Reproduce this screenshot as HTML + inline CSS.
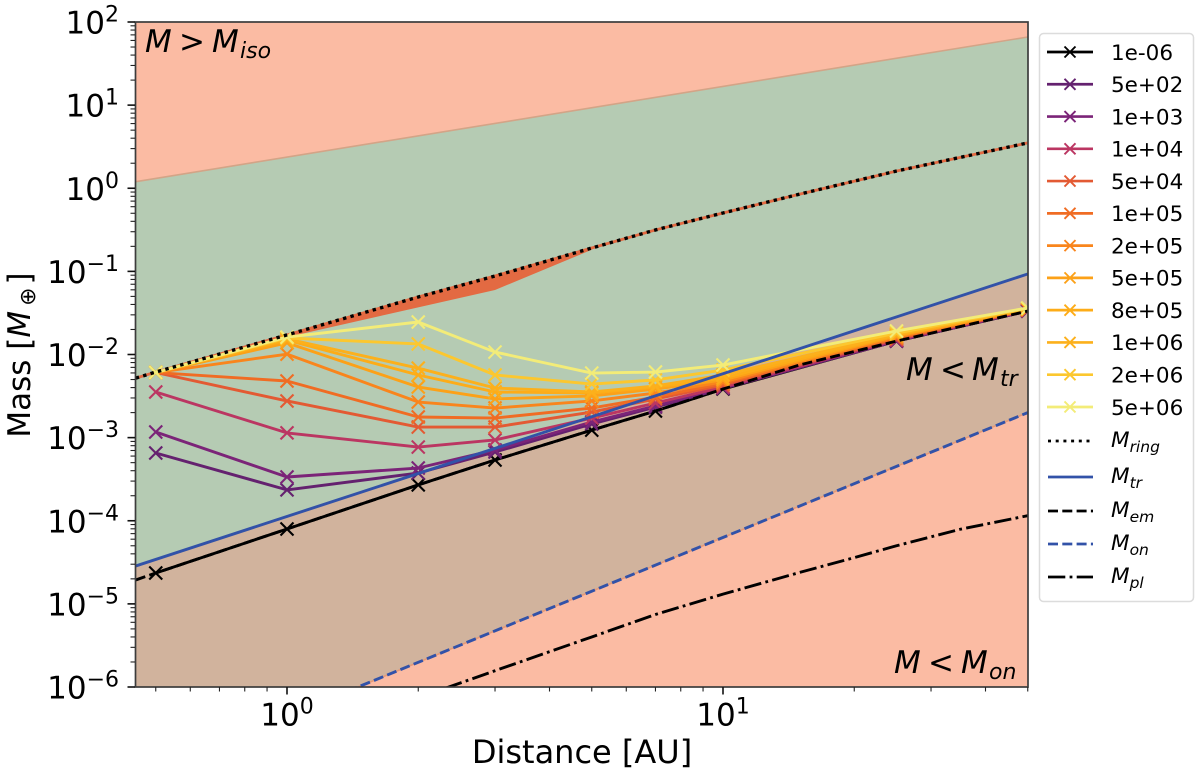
<!DOCTYPE html>
<html>
<head>
<meta charset="utf-8">
<title>Mass vs Distance chart</title>
<style>
html,body{margin:0;padding:0;background:#fff;width:1200px;height:775px;overflow:hidden}
svg{display:block;filter:blur(0.35px)}
text{font-family:"DejaVu Sans","Liberation Sans",sans-serif;fill:#000}
.it{font-style:italic}
</style>
</head>
<body>
<svg id="chart" xmlns="http://www.w3.org/2000/svg" width="1200" height="775" viewBox="0 0 1200 775">
  <defs><clipPath id="plot-clip"><rect x="135.5" y="22" width="892.5" height="665"/></clipPath></defs>
  <rect x="135.5" y="22" width="892.5" height="665" fill="#fbbba3"/>
  <g id="plot" clip-path="url(#plot-clip)"></g>
  <g id="axes"></g>

  <text y="52" font-size="31"><tspan class="it" x="145">M</tspan><tspan x="179">&gt;</tspan><tspan class="it" x="212">M</tspan><tspan class="it" x="240" dy="6" font-size="22">iso</tspan></text>
  <text y="380" font-size="31"><tspan class="it" x="906">M</tspan><tspan x="940">&lt;</tspan><tspan class="it" x="972">M</tspan><tspan class="it" x="1000" dy="6" font-size="22">tr</tspan></text>
  <text y="673" font-size="31"><tspan class="it" x="894">M</tspan><tspan x="928">&lt;</tspan><tspan class="it" x="961">M</tspan><tspan class="it" x="989" dy="6" font-size="22">on</tspan></text>

  <text x="582" y="763" font-size="32" text-anchor="middle">Distance [AU]</text>
  <text transform="translate(30,355) rotate(-90)" font-size="31" text-anchor="middle">Mass [<tspan class="it">M</tspan><tspan dx="5" dy="5" font-size="22">⊕</tspan><tspan dx="3" dy="-5">]</tspan></text>

  <g id="legend">
    <rect x="1039.5" y="33.5" width="154" height="568" rx="4" fill="#fff" stroke="#dcdcdc" stroke-width="1.5"/>
    <text y="447" font-size="21.5"><tspan class="it" x="1111">M</tspan><tspan class="it" dy="5" font-size="15.5">ring</tspan></text>
    <text y="483" font-size="21.5"><tspan class="it" x="1111">M</tspan><tspan class="it" dy="5" font-size="15.5">tr</tspan></text>
    <text y="517" font-size="21.5"><tspan class="it" x="1111">M</tspan><tspan class="it" dy="5" font-size="15.5">em</tspan></text>
    <text y="550" font-size="21.5"><tspan class="it" x="1111">M</tspan><tspan class="it" dy="5" font-size="15.5">on</tspan></text>
    <text y="583" font-size="21.5"><tspan class="it" x="1111">M</tspan><tspan class="it" dy="5" font-size="15.5">pl</tspan></text>
  </g>
</svg>
<script>
// ---- data ----
const distances = [0.5, 1, 2, 3, 5, 7, 10, 25, 50];
const seriesLabels = ['1e-06','5e+02','1e+03','1e+04','5e+04','1e+05','2e+05','5e+05','8e+05','1e+06','2e+06','5e+06'];
const seriesColors = ['#000000','#64216f','#7b2478','#bb3662','#e35a33','#f06c23','#f9851c','#fca118','#fdac18','#fcb01c','#fcc72e','#f3ec78'];
const mass1em06 = [2.35e-5,7.96e-5,2.7e-4,5.38e-4,1.23e-3,2.09e-3,3.84e-3,1.45e-2,3.33e-2];
const mass5e02 = [6.54e-4,2.35e-4,3.75e-4,6.71e-4,1.46e-3,2.33e-3,3.9e-3,1.45e-2,3.33e-2];
const mass1e03 = [1.17e-3,3.36e-4,4.31e-4,7.11e-4,1.54e-3,2.4e-3,3.95e-3,1.47e-2,3.36e-2];
const mass1e04 = [3.54e-3,1.14e-3,7.7e-4,9.37e-4,1.72e-3,2.61e-3,4.06e-3,1.49e-2,3.4e-2];
const mass5e04 = [6.07e-3,2.76e-3,1.34e-3,1.34e-3,2.03e-3,2.92e-3,4.3e-3,1.54e-2,3.43e-2];
const mass1e05 = [6.07e-3,4.8e-3,1.77e-3,1.72e-3,2.27e-3,3.08e-3,4.5e-3,1.58e-2,3.45e-2];
const mass2e05 = [6.07e-3,1.01e-2,2.68e-3,2.27e-3,2.76e-3,3.44e-3,4.67e-3,1.62e-2,3.48e-2];
const mass5e05 = [6.07e-3,1.38e-2,4.06e-3,2.92e-3,3.17e-3,3.84e-3,4.94e-3,1.67e-2,3.5e-2];
const mass8e05 = [6.07e-3,1.49e-2,5.67e-3,3.54e-3,3.44e-3,4.06e-3,5.2e-3,1.72e-2,3.53e-2];
const mass1e06 = [6.07e-3,1.54e-2,6.85e-3,3.95e-3,3.54e-3,4.18e-3,5.67e-3,1.74e-2,3.55e-2];
const mass2e06 = [6.07e-3,1.58e-2,1.34e-2,5.67e-3,4.41e-3,4.94e-3,6.5e-3,1.81e-2,3.6e-2];
const mass5e06 = [6.07e-3,1.62e-2,2.46e-2,1.07e-2,5.98e-3,6.15e-3,7.47e-3,1.92e-2,3.63e-2];
const seriesMasses = [mass1em06,mass5e02,mass1e03,mass1e04,mass5e04,mass1e05,mass2e05,mass5e05,mass8e05,mass1e06,mass2e06,mass5e06];

const isoDist = [0.45, 50];
const isoMass = [1.2, 66];
const ringDist = [0.45,0.5,1,2,3,5,7,10,15,25,50];
const ringMass = [5.2e-3,6.15e-3,1.72e-2,4.92e-2,8.8e-2,1.91e-1,3.15e-1,5.04e-1,8.5e-1,1.61,3.51];
const ringFillDist = [1,3,5];
const ringFillLow = [1.62e-2,5.97e-2,1.82e-1];
const ringFillHigh = [1.72e-2,8.8e-2,1.91e-1];
const trDist = [0.45, 50];
const trMass = [2.86e-5, 0.093];
const emDist = [0.45,0.5,1,2,3,5,7,10,15,25,50];
const emMass = [1.94e-5,2.35e-5,7.96e-5,2.7e-4,5.38e-4,1.23e-3,2.09e-3,3.84e-3,7.5e-3,1.45e-2,3.33e-2];
const onDist = [0.45,1.455,50];
const onMass = [8e-8,1e-6,2e-3];
const plDist = [2,3,5,7,10,15,20,25,35,50];
const plMass = [7.4e-7,1.57e-6,4e-6,7.45e-6,1.31e-5,2.39e-5,3.6e-5,5e-5,7.9e-5,1.15e-4];

const xTickExps = [0, 1];
const xTickLabels = ['0', '1'];
const yTickExps = [2,1,0,-1,-2,-3,-4,-5,-6];
const yTickLabels = ['2','1','0','−1','−2','−3','−4','−5','−6'];

// ---- scales ----
const X0 = 287, XD = 436, Y0 = 22, YD = 83.125;
function sx(v){ return X0 + XD * Math.log10(v); }
function sy(v){ return Y0 + YD * (2 - Math.log10(v)); }

const NS = 'http://www.w3.org/2000/svg';
function mk(tag, attrs, parent){
  const e = document.createElementNS(NS, tag);
  for (const k in attrs) e.setAttribute(k, attrs[k]);
  parent.appendChild(e);
  return e;
}
function pts(xs, ys){ return xs.map((x,i)=>sx(x).toFixed(2)+','+sy(ys[i]).toFixed(2)); }

const plot = document.getElementById('plot');
const axes = document.getElementById('axes');
const legend = document.getElementById('legend');

// ---- regions ----
const greenRegion = mk('polygon',{points:pts(isoDist,isoMass).concat(pts(trDist,trMass).reverse()).join(' '),fill:'#b5cbb3'},plot);


const tanRegion = mk('polygon',{points:pts(trDist,trMass).concat(pts(onDist,onMass).reverse()).join(' '),fill:'#d1b39d'},plot);


const isoLine = mk('polyline',{points:pts(isoDist,isoMass).join(' '),fill:'none',stroke:'#d3a487','stroke-width':1.6},plot);


const onEdge = mk('polyline',{points:pts(onDist,onMass).join(' '),fill:'none',stroke:'#e59a78','stroke-width':1.6},plot);


const ringBand = mk('polygon',{points:pts(ringFillDist,ringFillHigh).concat(pts(ringFillDist,ringFillLow).reverse()).join(' '),fill:'#e36a42'},plot);


const ringEdge = mk('polyline',{points:pts(ringDist,ringMass).join(' '),fill:'none',stroke:'#e36a42','stroke-width':2.8},plot);



// ---- series ----
function drawX(cx, cy, r, color, sw, parent){
  return mk('path',{d:`M${cx-r} ${cy-r}L${cx+r} ${cy+r}M${cx-r} ${cy+r}L${cx+r} ${cy-r}`,fill:'none',stroke:color,'stroke-width':sw},parent);
}
seriesMasses.forEach((masses, s) => {
  const g = mk('g',{},plot);
  
  
  const line = mk('polyline',{points:pts(distances,masses).join(' '),fill:'none',stroke:seriesColors[s],'stroke-width':2.9,'stroke-linejoin':'round'},g);
  
  
  masses.forEach((m, i) => {
    const marker = drawX(sx(distances[i]), sy(m), 6.5, seriesColors[s], 2.1, g);
    
    
  });
});

// ---- model curves ----
const ringLine = mk('polyline',{points:pts(ringDist,ringMass).join(' '),fill:'none',stroke:'#000','stroke-width':3.4,'stroke-dasharray':'3.4 4.3'},plot);


const trLine = mk('polyline',{points:pts(trDist,trMass).join(' '),fill:'none',stroke:'#3252a8','stroke-width':2.9},plot);


const emLine = mk('polyline',{points:pts(emDist,emMass).join(' '),fill:'none',stroke:'#000','stroke-width':2.9,'stroke-dasharray':'10 4.3'},plot);


const onLine = mk('polyline',{points:pts(onDist,onMass).join(' '),fill:'none',stroke:'#3252a8','stroke-width':2.9,'stroke-dasharray':'10 4.3'},plot);


const plLine = mk('polyline',{points:pts(plDist,plMass).join(' '),fill:'none',stroke:'#000','stroke-width':2.9,'stroke-dasharray':'17.3 4.3 2.8 4.3'},plot);



// ---- axes ----
const spine = mk('rect',{x:135.5,y:22,width:892.5,height:665,fill:'none',stroke:'#3c3c3c','stroke-width':1.7},axes);



const BOTTOM = 687, LEFT = 135;
yTickExps.forEach((exp, i) => {
  const y = sy(Math.pow(10, exp));
  const major = mk('line',{x1:LEFT-7.5,x2:LEFT,y1:y,y2:y,stroke:'#111','stroke-width':1.6},axes);
  
  
  const label = mk('text',{x:119,y:y+11.5,'font-size':31,'text-anchor':'end'},axes);
  
  
  const base = mk('tspan',{},label); base.textContent = '10';
  const sup = mk('tspan',{dy:-12,'font-size':22},label); sup.textContent = yTickLabels[i];
  if (exp > -6) for (let m = 2; m < 10; m++) {
    const ym = sy(m * Math.pow(10, exp - 1));
    const minor = mk('line',{x1:LEFT-4.5,x2:LEFT,y1:ym,y2:ym,stroke:'#222','stroke-width':1.1},axes);
    
    
  }
});
xTickExps.forEach((exp, i) => {
  const x = sx(Math.pow(10, exp));
  const major = mk('line',{x1:x,x2:x,y1:BOTTOM,y2:BOTTOM+7.5,stroke:'#111','stroke-width':1.6},axes);
  
  
  const label = mk('text',{x:x,y:725.5,'font-size':31,'text-anchor':'middle'},axes);
  
  
  const base = mk('tspan',{},label); base.textContent = '10';
  const sup = mk('tspan',{dy:-12,'font-size':22},label); sup.textContent = xTickLabels[i];
});
[-1, 0, 1].forEach(exp => {
  for (let m = 2; m < 10; m++) {
    const v = m * Math.pow(10, exp);
    if (v < 0.45 || v > 50) continue;
    const x = sx(v);
    const minor = mk('line',{x1:x,x2:x,y1:BOTTOM,y2:BOTTOM+4.5,stroke:'#222','stroke-width':1.1},axes);
    
    
  }
});

// ---- legend ----
const HX0 = 1047, HX1 = 1093, HC = 1070;
seriesLabels.forEach((lab, s) => {
  const y = 52 + s * 32.27;
  const row = mk('g',{},legend);
  
  
  mk('line',{x1:HX0,x2:HX1,y1:y,y2:y,stroke:seriesColors[s],'stroke-width':2.7},row);
  drawX(HC, y, 5.5, seriesColors[s], 1.9, row);
  const t = mk('text',{x:1111,y:y+7.8,'font-size':21.5},row);
  t.textContent = lab;
});
const legendLineY = [441, 477, 511, 544, 577];
const legendLineColors = ['#000','#3252a8','#000','#3252a8','#000'];
const legendLineDash = ['3 4.7','none','10 4.3','10 4.3','17.3 4.3 2.8 4.3'];
const legendLineNames = ['ring','tr','em','on','pl'];
legendLineY.forEach((y, i) => {
  const l = mk('line',{x1:HX0+1,x2:HX1,y1:y,y2:y,stroke:legendLineColors[i],'stroke-width':2.7,'stroke-dasharray':legendLineDash[i]},legend);
  
  
});
</script>
</body>
</html>
